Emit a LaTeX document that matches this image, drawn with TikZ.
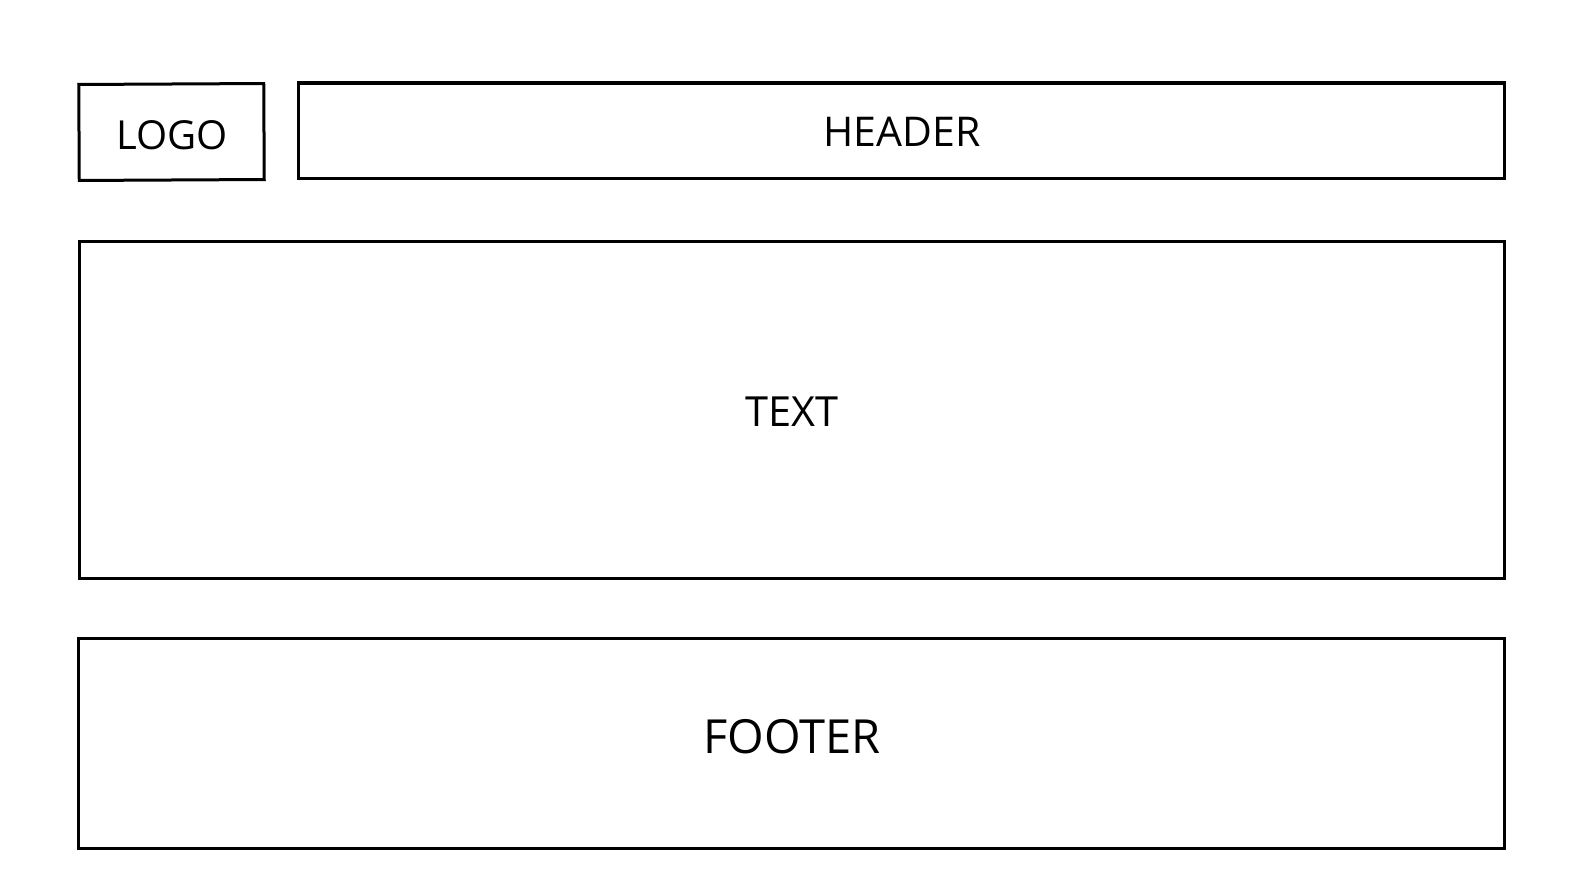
\documentclass[tikz,border=0pt]{standalone}
\usepackage{fontspec}
\setmainfont{Open Sans}
\begin{document}
\begin{tikzpicture}[x=1pt,y=-1pt,
  box/.style={draw=black,line width=3pt,inner sep=0pt,outer sep=0pt},
  lbl/.style={inner sep=0pt,anchor=base,text=black}]
\useasboundingbox (0,0) rectangle (1585,891);
\node[box,minimum width=185pt,minimum height=96pt,rotate=0.3] (logo) at (171.5,132) {};
\node[box,minimum width=1206pt,minimum height=95pt] (header) at (901,130.5) {};
\node[box,minimum width=1425pt,minimum height=337pt] (text) at (791.5,409.5) {};
\node[box,minimum width=1426pt,minimum height=210pt] (footer) at (791,743) {};
\node[lbl,font=\fontsize{40}{40}\selectfont] (logot) at (172,149) {LOGO};
\node[lbl,font=\fontsize{41}{41}\selectfont] (headt) at (902,146) {HEADER};
\node[lbl,font=\fontsize{41.5}{41.5}\selectfont] (textt) at (792,426) {TEXT};
\node[lbl,font=\fontsize{47}{47}\selectfont] (foott) at (792,753) {FOOTER};
\end{tikzpicture}
\end{document}
